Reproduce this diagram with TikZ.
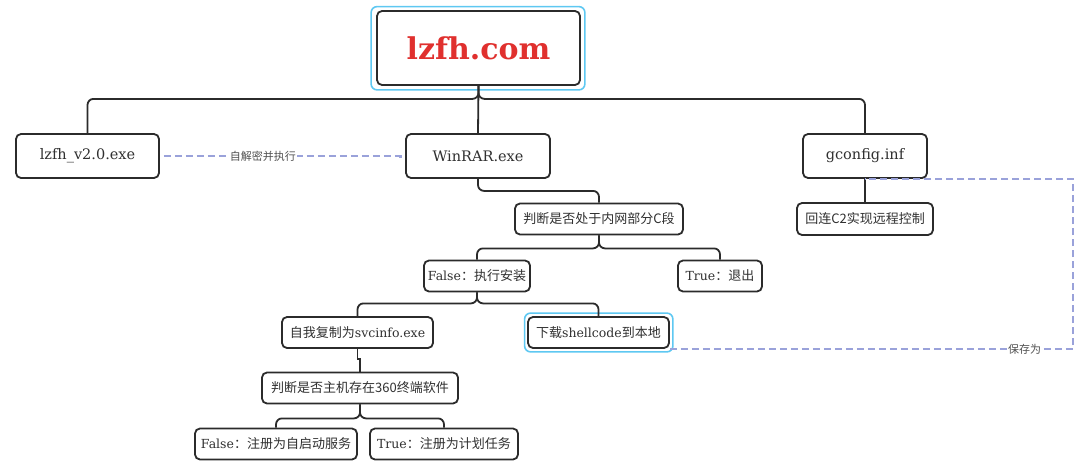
\documentclass[tikz,border=0pt]{standalone}
\usepackage{fontspec}
\setmainfont{DejaVu Serif}
\newfontfamily\cjk{Noto Sans CJK SC}
\usetikzlibrary{arrows.meta}
\definecolor{boxline}{HTML}{2B2B2B}
\definecolor{dashcol}{HTML}{9AA2DA}
\definecolor{frameblue}{HTML}{5EC8F2}
\definecolor{titlered}{HTML}{E0302E}
\definecolor{labelgray}{HTML}{505050}
\definecolor{textcol}{HTML}{303030}
\begin{document}
\begin{tikzpicture}[x=1pt,y=-1pt,
  box/.style={draw=boxline, line width=1.8pt, rounded corners=5pt, fill=white, inner sep=0pt, align=center, text=textcol},
  bigbox/.style={box, minimum height=44, font=\fontsize{14.5}{18}\selectfont},
  smallbox/.style={box, minimum height=31, font=\fontsize{12.5}{15}\selectfont},
  tree/.style={draw=boxline, line width=1.8pt, rounded corners=6pt},
  dashl/.style={draw=dashcol, line width=1.4pt, dash pattern=on 7pt off 4pt},
  lbl/.style={fill=white, text=labelgray, font=\cjk\fontsize{11}{13}\selectfont, inner sep=1pt},
  frame/.style={draw=frameblue, line width=1.6pt, rounded corners=6pt}
]
\useasboundingbox (0,0) rectangle (1080,471);
\fill[white] (0,0) rectangle (1080,471);

% nodes
\node[box, minimum width=203, minimum height=74, text=titlered, font=\bfseries\fontsize{30}{36}\selectfont] (root) at (478.5,48) {lzfh.com};
\node[bigbox, minimum width=143] (lzfh) at (87.5,156) {lzfh\_v2.0.exe};
\node[bigbox, minimum width=144] (winrar) at (478,156) {WinRAR.exe};
\node[bigbox, minimum width=124] (gconfig) at (865,156) {gconfig.inf};
\node[smallbox, minimum width=168] (q1) at (599,219) {\cjk\fontsize{13}{15}\selectfont 判断是否处于内网部分C段};
\node[smallbox, minimum width=106] (f1) at (477,276) {False{\cjk\fontsize{13}{15}\selectfont ：执行安装}};
\node[smallbox, minimum width=84] (t1) at (720,276) {True{\cjk\fontsize{13}{15}\selectfont ：退出}};
\node[smallbox, minimum width=151] (copy) at (357.5,332.5) {{\cjk\fontsize{13}{15}\selectfont 自我复制为}svcinfo.exe};
\node[smallbox, minimum width=141] (dl) at (598.5,332.5) {{\cjk\fontsize{13}{15}\selectfont 下载}shellcode{\cjk\fontsize{13}{15}\selectfont 到本地}};
\node[smallbox, minimum width=196] (q2) at (360,388) {\cjk\fontsize{13}{15}\selectfont 判断是否主机存在360终端软件};
\node[smallbox, minimum width=162] (f2) at (276,444) {False{\cjk\fontsize{13}{15}\selectfont ：注册为自启动服务}};
\node[smallbox, minimum width=148] (t2) at (444,444) {True{\cjk\fontsize{13}{15}\selectfont ：注册为计划任务}};
\node[smallbox, minimum width=136, minimum height=32] (c2) at (865,219) {\cjk\fontsize{13}{15}\selectfont 回连C2实现远程控制};

% highlight frames
\draw[frame] ([shift={(-5,-3.5)}]root.north west) rectangle ([shift={(4,4)}]root.south east);
\draw[frame] ([shift={(-2.5,-3)}]dl.north west) rectangle ([shift={(3,3)}]dl.south east);

% tree connectors
\draw[tree] (root.south) -- ++(0,13) -| (lzfh.north);
\draw[tree] (root.south) -- ++(0,13) -| (gconfig.north);
\draw[tree] (root.south) -- (winrar.north);
\draw[tree] (winrar.south) -- ++(0,12) -| (q1.north);
\draw[tree] (q1.south) -- ++(0,13) -| (f1.north);
\draw[tree] (q1.south) -- ++(0,13) -| (t1.north);
\draw[tree] (f1.south) -- ++(0,11) -| (copy.north);
\draw[tree] (f1.south) -- ++(0,11) -| (dl.north);
\draw[tree, rounded corners=0pt] (copy.south) -- ++(0,10) -| (q2.north);
\draw[tree] (q2.south) -- ++(0,14) -| (f2.north);
\draw[tree] (q2.south) -- ++(0,14) -| (t2.north);
\draw[tree] (gconfig.south) -- (c2.north);

% dashed relations
\draw[dashl, -{Square[length=3pt,width=3pt]}, shorten <=4pt, shorten >=3pt] (lzfh.east) -- node[lbl, pos=0.42] {自解密并执行} (winrar.west);
\coordinate (rt) at (1073,0);
\draw[dashl] (dl.south east) -- node[lbl, pos=0.88] {保存为} (dl.south east -| rt) -- (rt |- gconfig.south) -- (gconfig.south);
\end{tikzpicture}
\end{document}
